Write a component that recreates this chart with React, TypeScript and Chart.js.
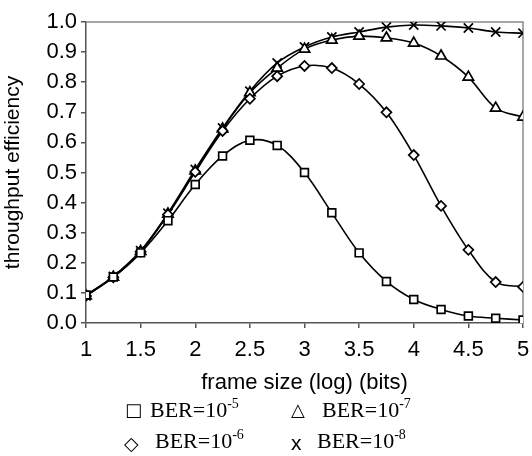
import React, { useEffect, useRef } from "react";
import { Chart, registerables } from "chart.js";

Chart.register(...registerables);

// frame size (log10 of bits)
const frameSizes = [1, 1.25, 1.5, 1.75, 2, 2.25, 2.5, 2.75, 3, 3.25, 3.5, 3.75, 4, 4.25, 4.5, 4.75, 5];
// throughput efficiency per BER
const ber5 = [0.093, 0.153, 0.233, 0.34, 0.46, 0.555, 0.607, 0.59, 0.5, 0.366, 0.233, 0.138, 0.078, 0.045, 0.023, 0.016, 0.01];
const ber6 = [0.09, 0.152, 0.237, 0.36, 0.502, 0.638, 0.745, 0.82, 0.854, 0.847, 0.794, 0.7, 0.558, 0.389, 0.243, 0.136, 0.12];
const ber7 = [0.09, 0.152, 0.238, 0.362, 0.505, 0.645, 0.765, 0.847, 0.91, 0.94, 0.953, 0.947, 0.93, 0.887, 0.817, 0.714, 0.684];
const ber8 = [0.09, 0.155, 0.24, 0.365, 0.51, 0.648, 0.77, 0.864, 0.917, 0.95, 0.967, 0.983, 0.99, 0.987, 0.98, 0.967, 0.963];

const seriesLabels = ["BER=10-5", "BER=10-6", "BER=10-7", "BER=10-8"];

const framePlugin = {
  id: "frameBox",
  beforeDatasetsDraw(chart: any) {
    const { ctx, chartArea } = chart;
    ctx.save();
    ctx.strokeStyle = "#8a8a8a";
    ctx.lineWidth = 1.5;
    ctx.beginPath();
    ctx.moveTo(chartArea.left, chartArea.top);
    ctx.lineTo(chartArea.right, chartArea.top);
    ctx.lineTo(chartArea.right, chartArea.bottom);
    ctx.stroke();
    ctx.restore();
  },
};

function mk(label: string, data: number[], style: string, radius: number) {
  return {
    label,
    data: frameSizes.map((x, i) => ({ x, y: data[i] })),
    borderColor: "#000",
    borderWidth: 1.6,
    tension: 0.35,
    pointStyle: style,
    pointRadius: radius,
    pointBackgroundColor: "#fff",
    pointBorderColor: "#000",
    pointBorderWidth: 1.7,
    fill: false,
  };
}

export default function App() {
  const ref = useRef<HTMLCanvasElement | null>(null);

  useEffect(() => {
    if (!ref.current) return;
    const chart = new Chart(ref.current, {
      type: "line",
      data: {
        datasets: [
          mk(seriesLabels[0], ber5, "rect", 5.5),
          mk(seriesLabels[1], ber6, "rectRot", 5),
          mk(seriesLabels[2], ber7, "triangle", 6),
          mk(seriesLabels[3], ber8, "crossRot", 6.5),
        ] as any,
      },
      options: {
        animation: false,
        responsive: false,
        devicePixelRatio: 1,
        layout: { padding: { top: 22, right: 9, left: 0, bottom: 0 } },
        plugins: { legend: { display: false }, tooltip: { enabled: false } },
        scales: {
          x: {
            type: "linear",
            min: 1,
            max: 5,
            afterFit: (s: any) => {
              s.height = 77;
              s.paddingRight = 0;
              s.paddingLeft = 0;
            },
            ticks: {
              stepSize: 0.5,
              color: "#000",
              padding: 9,
              font: { family: "'Liberation Sans', Arial, sans-serif", size: 22 },
              callback: (v: any) => String(v),
            },
            grid: { display: true, drawOnChartArea: false, drawTicks: true, tickLength: 5, color: "#555", lineWidth: 1.5 },
            border: { display: true, color: "#555", width: 1.5 },
            title: {
              display: true,
              text: "frame size (log) (bits)",
              color: "#000",
              font: { family: "'Liberation Sans', Arial, sans-serif", size: 22 },
              padding: { top: 0, bottom: 4 },
            },
          },
          y: {
            type: "linear",
            min: 0,
            max: 1,
            afterFit: (s: any) => {
              s.width = 86;
            },
            ticks: {
              stepSize: 0.1,
              color: "#000",
              padding: 4,
              font: { family: "'Liberation Sans', Arial, sans-serif", size: 22 },
              callback: (v: any) => Number(v).toFixed(1),
            },
            grid: { display: true, drawOnChartArea: false, drawTicks: true, tickLength: 5, color: "#555", lineWidth: 1.5 },
            border: { display: true, color: "#555", width: 1.5 },
            title: {
              display: true,
              text: "throughput efficiency",
              color: "#000",
              font: { family: "'Liberation Sans', Arial, sans-serif", size: 21 },
              padding: { top: 1, bottom: 0 },
            },
          },
        },
      },
      plugins: [framePlugin],
    });
    return () => chart.destroy();
  }, []);

  const serif = "'Liberation Serif', 'Times New Roman', serif";
  const textStyle = (left: number, top: number): React.CSSProperties => ({
    position: "absolute",
    left,
    top,
    fontFamily: serif,
    fontSize: 22,
    lineHeight: 1,
    whiteSpace: "nowrap",
    color: "#000",
  });
  const sup: React.CSSProperties = { fontSize: 14, position: "relative", top: -9 };
  const markStyle = (left: number, top: number, size: number, family: string): React.CSSProperties => ({
    position: "absolute",
    left,
    top,
    fontFamily: family,
    fontSize: size,
    lineHeight: 1,
    color: "#000",
  });

  return (
    <div style={{ position: "absolute", left: 0, top: 0, width: 532, height: 456, background: "#fff", overflow: "hidden" }}>
      <canvas ref={ref} width={532} height={400} style={{ position: "absolute", left: 0, top: 0, width: 532, height: 400 }} />
      <span style={markStyle(125, 401, 18, "'DejaVu Sans', sans-serif")}>□</span>
      <span style={textStyle(150, 399)}>BER=10<span style={sup}>-5</span></span>
      <span style={markStyle(291, 401, 18, "'DejaVu Sans', sans-serif")}>△</span>
      <span style={textStyle(322, 399)}>BER=10<span style={sup}>-7</span></span>
      <span style={markStyle(124, 434, 19, "'DejaVu Sans', sans-serif")}>◇</span>
      <span style={textStyle(155, 430)}>BER=10<span style={sup}>-6</span></span>
      <span style={markStyle(291, 432, 21, "'Liberation Sans', Arial, sans-serif")}>x</span>
      <span style={textStyle(317, 430)}>BER=10<span style={sup}>-8</span></span>
    </div>
  );
}
